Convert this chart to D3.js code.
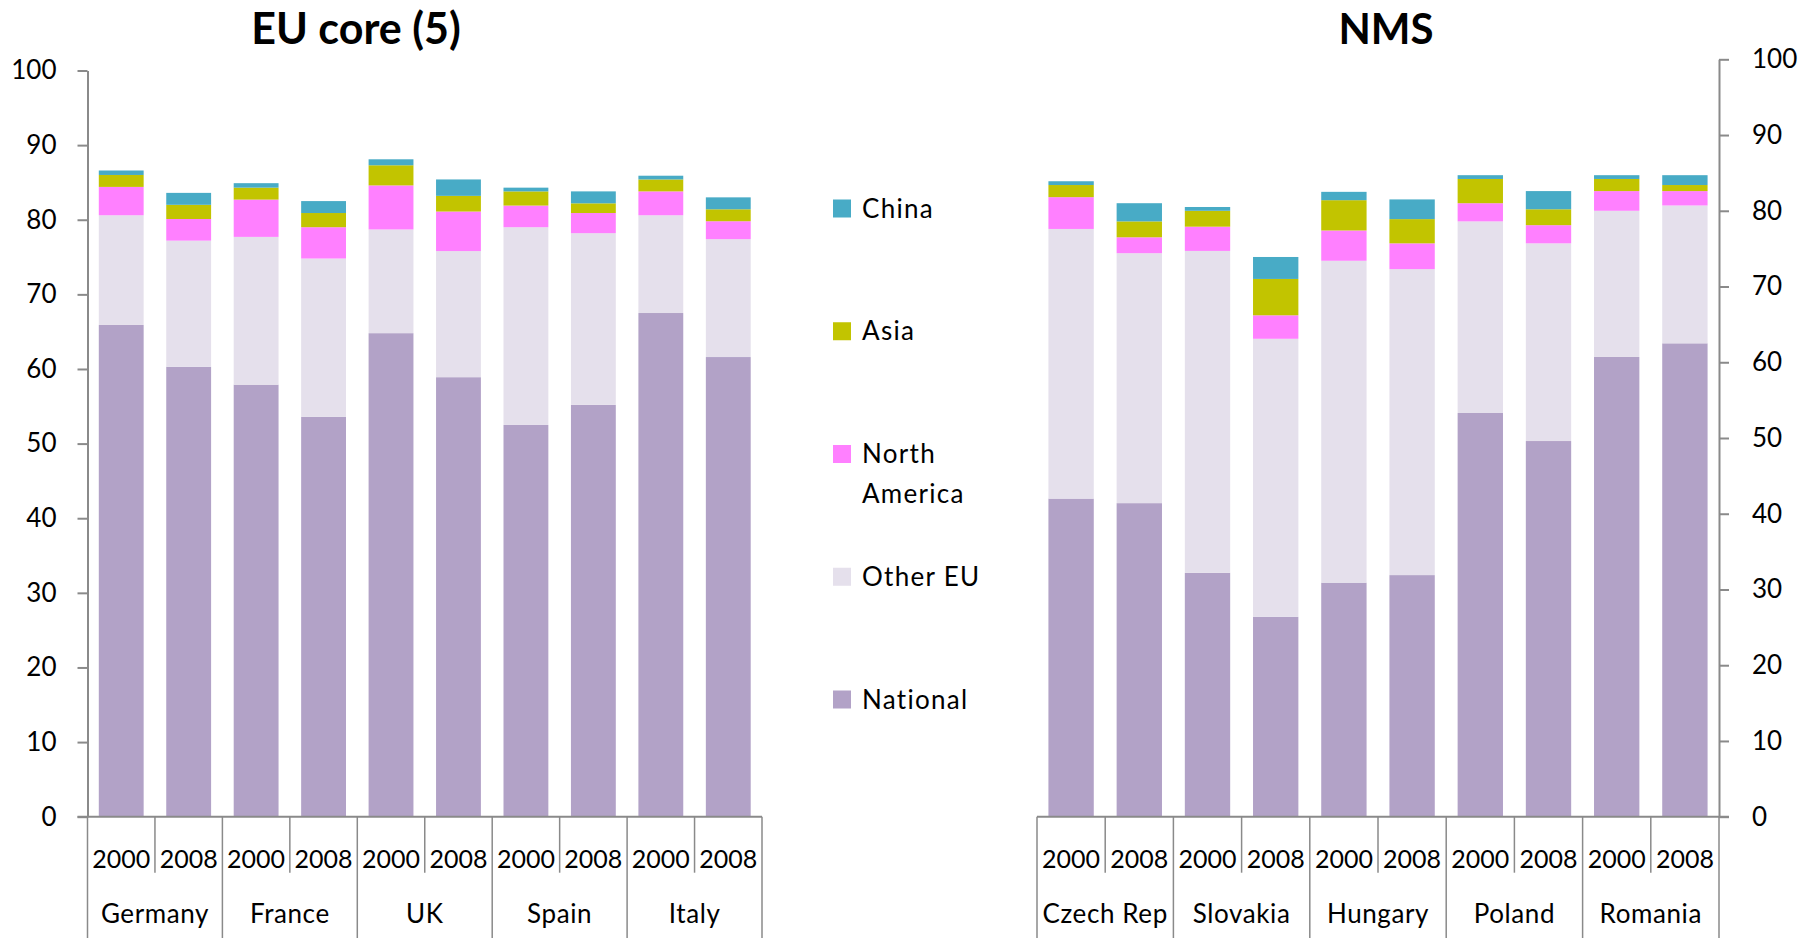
<!DOCTYPE html>
<html>
<head>
<meta charset="utf-8">
<script src="https://cdn.jsdelivr.net/npm/d3@7"></script>
<style>
  html, body { margin: 0; padding: 0; background: #fff; }
  svg { display: block; font-family: Lato, "Open Sans", sans-serif; }
</style>
</head>
<body>
<svg id="chart" width="1807" height="938"></svg>
<script>
// Origin of the value added in final demand, share (%) by source region
const years = ["2000", "2008"];
const coreCountries = ["Germany", "France", "UK", "Spain", "Italy"];
const nmsCountries = ["Czech Rep", "Slovakia", "Hungary", "Poland", "Romania"];
const seriesNames = ["National", "Other EU", "North America", "Asia", "China"];
const seriesColors = ["#b2a2c7", "#e5e0ec", "#ff80ff", "#c2c400", "#48abc6"];
const yTicks = [0, 10, 20, 30, 40, 50, 60, 70, 80, 90, 100];

// bars run country by country, 2000 then 2008
const coreNational      = [65.9, 60.3, 57.9, 53.6, 64.8, 58.9, 52.5, 55.2, 67.5, 61.6];
const coreOtherEU       = [14.7, 16.9, 19.8, 21.2, 13.9, 16.9, 26.5, 23.0, 13.1, 15.8];
const coreNorthAmerica  = [ 3.8,  2.9,  5.0,  4.2,  5.9,  5.3,  2.9,  2.7,  3.2,  2.4];
const coreAsia          = [ 1.6,  1.9,  1.6,  1.9,  2.7,  2.1,  1.9,  1.3,  1.6,  1.6];
const coreChina         = [ 0.6,  1.6,  0.6,  1.6,  0.8,  2.2,  0.5,  1.6,  0.5,  1.6];

const nmsNational       = [42.0, 41.4, 32.2, 26.4, 30.9, 31.9, 53.3, 49.6, 60.7, 62.5];
const nmsOtherEU        = [35.6, 33.0, 42.5, 36.7, 42.5, 40.4, 25.3, 26.1, 19.3, 18.2];
const nmsNorthAmerica   = [ 4.2,  2.1,  3.2,  3.1,  4.0,  3.4,  2.4,  2.4,  2.6,  1.9];
const nmsAsia           = [ 1.6,  2.1,  2.1,  4.8,  4.0,  3.2,  3.2,  2.1,  1.6,  0.8];
const nmsChina          = [ 0.5,  2.4,  0.5,  2.9,  1.1,  2.6,  0.5,  2.4,  0.5,  1.3];

const svg = d3.select("#chart");
const axisColor = "#8a8a8a";
const color = d3.scaleOrdinal(seriesNames, seriesColors);

function buildRows(countries, cols) {
  const rows = [];
  countries.forEach((c, ci) => {
    years.forEach((yr, yi) => {
      const i = ci * years.length + yi;
      const row = { key: c + "|" + yr, country: c, year: yr };
      seriesNames.forEach((s, si) => { row[s] = cols[si][i]; });
      rows.push(row);
    });
  });
  return rows;
}

function drawPanel(opt) {
  const rows = buildRows(opt.countries, opt.cols);
  const x = d3.scaleBand()
    .domain(rows.map(d => d.key))
    .range([opt.x0, opt.x1])
    .paddingInner(0.335)
    .paddingOuter(0.1675);
  const y = d3.scaleLinear().domain([0, 100]).range([opt.yBottom, opt.yTop]);
  const stacked = d3.stack().keys(seriesNames)(rows);

  const g = svg.append("g");

  // stacked bars
  g.selectAll("g.layer")
    .data(stacked)
    .join("g")
    .attr("class", "layer")
    .attr("fill", d => color(d.key))
    .selectAll("rect")
    .data(d => d)
    .join("rect")
    .attr("x", d => x(d.data.key))
    .attr("width", x.bandwidth())
    .attr("y", d => y(d[1]))
    .attr("height", d => y(d[0]) - y(d[1]));

  // value axis
  const axis = (opt.side === "left" ? d3.axisLeft(y) : d3.axisRight(y))
    .tickValues(yTicks)
    .tickSize(10)
    .tickPadding(opt.side === "left" ? 21 : 23)
    .tickSizeOuter(0);
  const ag = g.append("g")
    .attr("transform", `translate(${opt.side === "left" ? opt.x0 : opt.x1},0)`)
    .call(axis);
  ag.select(".domain").attr("stroke", axisColor).attr("stroke-width", 2);
  ag.selectAll(".tick line").attr("stroke", axisColor).attr("stroke-width", 2);
  ag.selectAll(".tick text")
    .attr("fill", "#000")
    .style("font-size", "26px")
    .style("font-family", "Lato, sans-serif");

  // category axis: baseline, year separators and country separators
  const step = x.step();
  const base = y(0);
  g.append("line")
    .attr("x1", opt.side === "left" ? opt.x0 - 10 : opt.x0)
    .attr("x2", opt.side === "left" ? opt.x1 : opt.x1 + 10)
    .attr("y1", base).attr("y2", base)
    .attr("stroke", axisColor).attr("stroke-width", 2);
  const bounds = d3.range(rows.length + 1);
  g.selectAll("line.sep")
    .data(bounds)
    .join("line")
    .attr("class", "sep")
    .attr("x1", i => opt.x0 + i * step)
    .attr("x2", i => opt.x0 + i * step)
    .attr("y1", base)
    .attr("y2", i => (i % years.length === 0 ? 938 : base + 56))
    .attr("stroke", axisColor)
    .attr("stroke-width", 1.5);

  g.selectAll("text.year")
    .data(rows)
    .join("text")
    .attr("class", "year")
    .attr("x", d => x(d.key) + x.bandwidth() / 2)
    .attr("y", base + 51)
    .attr("text-anchor", "middle")
    .style("font-size", "25px")
    .text(d => d.year);

  g.selectAll("text.country")
    .data(opt.countries)
    .join("text")
    .attr("class", "country")
    .attr("x", (c, i) => opt.x0 + (i * years.length + years.length / 2) * step)
    .attr("y", base + 106)
    .attr("text-anchor", "middle")
    .style("font-size", "26px")
    .style("letter-spacing", "0.6px")
    .text(c => c);

  // panel title
  g.append("text")
    .attr("x", opt.titleX)
    .attr("y", 44)
    .attr("text-anchor", "middle")
    .style("font-size", opt.titleSize)
    .style("font-weight", "bold")
    .text(opt.title);
}

drawPanel({
  title: "EU core (5)", titleX: 356, titleSize: "43px",
  countries: coreCountries,
  cols: [coreNational, coreOtherEU, coreNorthAmerica, coreAsia, coreChina],
  x0: 87.5, x1: 762, yBottom: 816.7, yTop: 70.5, side: "left"
});

drawPanel({
  title: "NMS", titleX: 1386, titleSize: "42px",
  countries: nmsCountries,
  cols: [nmsNational, nmsOtherEU, nmsNorthAmerica, nmsAsia, nmsChina],
  x0: 1037, x1: 1719, yBottom: 816.7, yTop: 59.3, side: "right"
});

// legend, listed top-down from China to National
const legendItems = seriesNames.slice().reverse();
const legendLabels = {
  "China": ["China"],
  "Asia": ["Asia"],
  "North America": ["North", "America"],
  "Other EU": ["Other EU"],
  "National": ["National"]
};
const legendY = d3.scalePoint().domain(legendItems).range([208.5, 699.5]);
const lg = svg.append("g");
const item = lg.selectAll("g.item")
  .data(legendItems)
  .join("g")
  .attr("class", "item")
  .attr("transform", d => `translate(833,${legendY(d)})`);
item.append("rect")
  .attr("x", 0).attr("y", -9)
  .attr("width", 18).attr("height", 18)
  .attr("fill", d => color(d));
item.selectAll("text")
  .data(d => legendLabels[d])
  .join("text")
  .attr("x", 29)
  .attr("y", (t, i) => 9 + i * 40)
  .style("font-size", "26px")
  .style("letter-spacing", "1.3px")
  .text(t => t);
</script>
</body>
</html>
